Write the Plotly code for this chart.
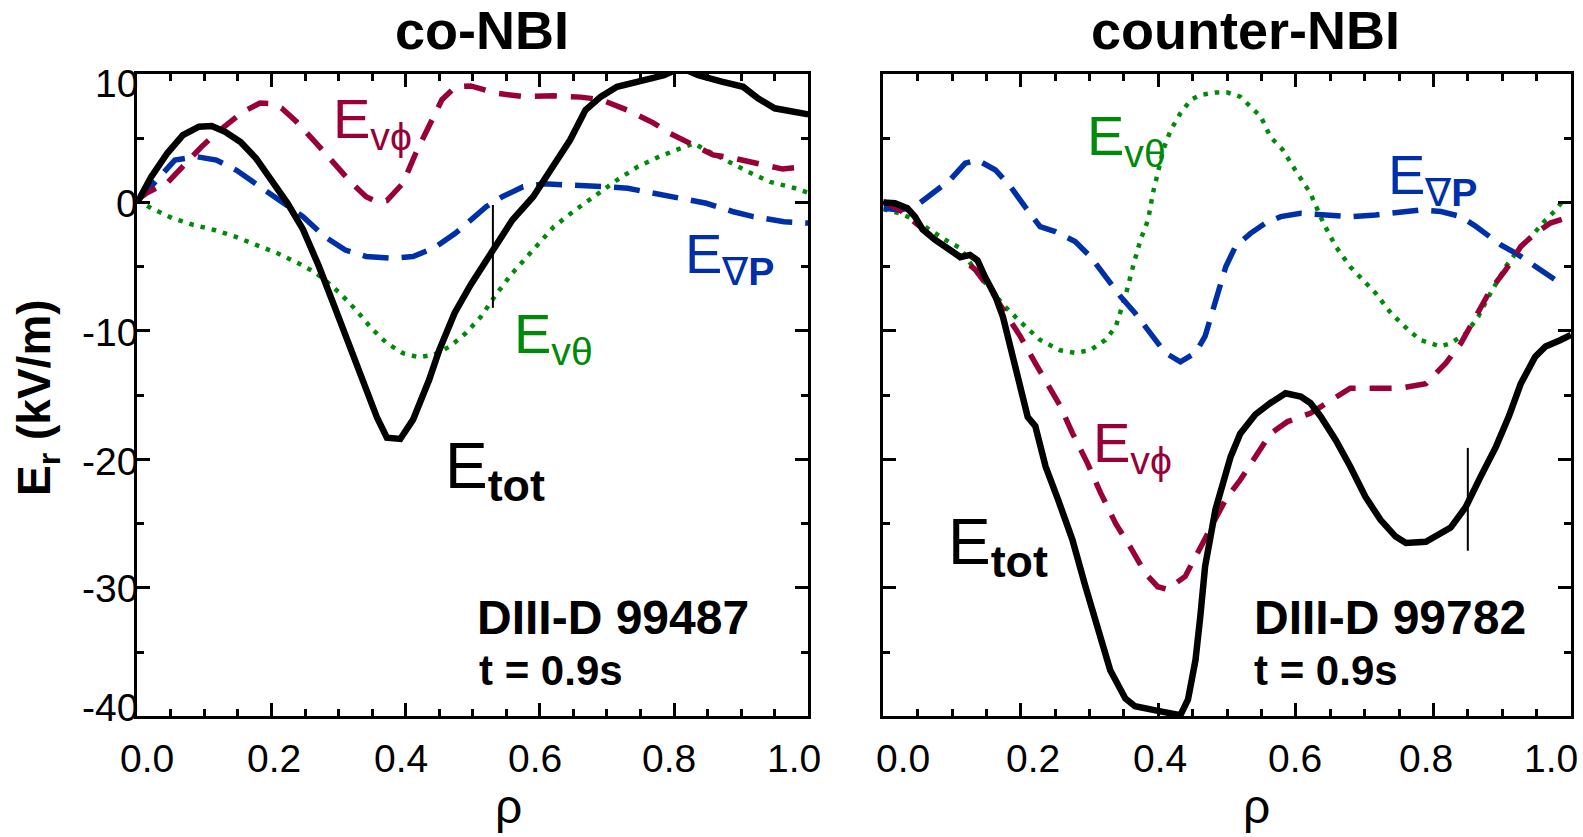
import plotly.graph_objects as go

# ---------------- data: co-NBI (left panel) ----------------
rho_co_tot = [0, 0.021, 0.045, 0.068, 0.092, 0.111, 0.131, 0.154, 0.177, 0.2, 0.224, 0.247, 0.271, 0.294,
              0.318, 0.341, 0.357, 0.372, 0.392, 0.411, 0.435, 0.45, 0.473, 0.497, 0.528, 0.559, 0.59,
              0.621, 0.645, 0.668, 0.691, 0.715, 0.754, 0.785, 0.81, 0.836, 0.871, 0.903, 0.925, 0.95, 1.0]
E_co_tot = [0, 2.0, 3.85, 5.25, 5.9, 5.95, 5.5, 4.7, 3.44, 1.75, -0.06, -2.1, -5.0, -8.1,
            -11.5, -14.6, -16.7, -18.3, -18.4, -16.9, -13.8, -11.5, -8.6, -6.4, -3.95, -1.36, 0.45,
            3.05, 4.86, 7.2, 8.24, 9.0, 9.5, 9.9, 10.5, 9.9, 9.4, 9.0, 8.1, 7.33, 6.86]

rho_co_vphi = [0, 0.014, 0.046, 0.066, 0.076, 0.096, 0.12, 0.143, 0.158, 0.183, 0.2, 0.215, 0.237, 0.267,
               0.294, 0.318, 0.341, 0.357, 0.372, 0.396, 0.415, 0.435, 0.454, 0.474, 0.497, 0.536, 0.575,
               0.621, 0.661, 0.691, 0.73, 0.769, 0.793, 0.824, 0.858, 0.888, 0.918, 0.933, 0.962, 0.988]
E_co_vphi = [0.2, 0.74, 1.6, 2.7, 3.1, 4.35, 5.5, 6.4, 7.07, 7.74, 7.7, 7.35, 6.3, 4.6,
             3.05, 1.6, 0.45, 0.07, 0.15, 1.5, 3.83, 5.9, 8.0, 9.0, 9.07, 8.5, 8.24,
             8.3, 8.2, 8.0, 7.2, 6.2, 5.4, 4.6, 3.7, 3.46, 3.1, 2.85, 2.6, 2.76]

rho_co_gradp = [0, 0.014, 0.036, 0.056, 0.088, 0.118, 0.148, 0.173, 0.198, 0.216, 0.247, 0.279, 0.31,
                0.341, 0.38, 0.411, 0.442, 0.474, 0.497, 0.52, 0.544, 0.575, 0.606, 0.653, 0.7, 0.731,
                0.778, 0.809, 0.848, 0.887, 0.918, 0.964, 1.0]
E_co_gradp = [0.2, 0.85, 2.14, 3.3, 3.57, 3.3, 2.5, 1.6, 0.6, 0.0, -1.1, -2.65, -3.7,
              -4.2, -4.34, -4.2, -3.55, -2.4, -1.36, -0.33, 0.45, 1.23, 1.45, 1.37, 1.23, 1.1,
              0.59, 0.33, -0.06, -0.7, -1.1, -1.5, -1.6]

rho_co_vth = [0, 0.021, 0.053, 0.084, 0.115, 0.146, 0.177, 0.209, 0.24, 0.263, 0.279, 0.302, 0.326,
              0.349, 0.372, 0.396, 0.419, 0.442, 0.466, 0.489, 0.512, 0.536, 0.559, 0.59, 0.621, 0.653,
              0.684, 0.715, 0.746, 0.778, 0.809, 0.83, 0.843, 0.876, 0.91, 0.943, 0.979, 1.0]
E_co_vth = [0.2, -0.45, -1.23, -1.75, -2.14, -2.65, -3.3, -3.95, -4.73, -5.38, -6.0, -7.06, -8.36,
            -9.79, -10.95, -11.73, -12.04, -11.86, -11.2, -10.2, -8.9, -7.06, -5.5, -3.68, -1.87, -0.58,
            0.59, 1.75, 2.79, 3.57, 4.2, 4.6, 4.2, 3.3, 2.4, 1.6, 1.13, 0.75]

# ---------------- data: counter-NBI (right panel) ----------------
rho_ctr_tot = [0, 0.017, 0.035, 0.046, 0.057, 0.075, 0.097, 0.112, 0.126, 0.137, 0.148, 0.163, 0.174,
               0.181, 0.192, 0.203, 0.21, 0.221, 0.236, 0.254, 0.275, 0.294, 0.312, 0.33, 0.352, 0.366,
               0.403, 0.432, 0.443, 0.454, 0.461, 0.468, 0.483, 0.505, 0.519, 0.541, 0.563, 0.585, 0.607,
               0.621, 0.636, 0.658, 0.679, 0.701, 0.723, 0.745, 0.76, 0.789, 0.825, 0.847, 0.869, 0.891,
               0.91, 0.927, 0.948, 0.963, 0.985, 1.0]
E_ctr_tot = [0, -0.05, -0.45, -1.1, -2.1, -2.9, -3.7, -4.26, -4.08, -4.5, -5.8, -7.3, -8.9,
             -10.4, -12.8, -14.8, -16.7, -17.4, -20.55, -23.1, -26.25, -29.9, -33.25, -36.4, -38.6, -39.2,
             -39.6, -39.9, -38.7, -35.6, -32.2, -28.3, -23.9, -19.8, -18.0, -16.5, -15.6, -14.85, -15.1,
             -15.6, -16.65, -18.5, -20.55, -22.9, -24.7, -26.0, -26.5, -26.4, -25.3, -23.7, -21.3, -19.0,
             -16.6, -14.1, -12.0, -11.2, -10.7, -10.3]

rho_ctr_vphi = [0, 0.024, 0.054, 0.083, 0.112, 0.134, 0.156, 0.177, 0.199, 0.221, 0.243, 0.257, 0.275,
                0.297, 0.316, 0.338, 0.359, 0.381, 0.399, 0.413, 0.439, 0.454, 0.476, 0.498, 0.519, 0.541,
                0.563, 0.588, 0.621, 0.636, 0.679, 0.723, 0.752, 0.789, 0.818, 0.84, 0.862, 0.883, 0.905,
                0.927, 0.948, 0.97, 1.0]
E_ctr_vphi = [0.07, -0.58, -1.9, -3.17, -4.2, -5.25, -6.8, -8.6, -10.4, -12.5, -14.6, -15.8, -17.95,
              -20.3, -22.6, -25.0, -26.8, -28.85, -29.9, -30.1, -29.1, -27.6, -25.5, -23.1, -21.6, -19.8,
              -18.0, -17.05, -16.4, -15.9, -14.45, -14.45, -14.45, -14.1, -12.5, -10.95, -8.9, -6.8, -5.25,
              -3.43, -2.4, -1.6, -1.1]

rho_ctr_gradp = [0, 0.024, 0.046, 0.075, 0.097, 0.119, 0.137, 0.163, 0.185, 0.206, 0.228, 0.25, 0.279,
                 0.301, 0.323, 0.345, 0.366, 0.388, 0.41, 0.432, 0.454, 0.468, 0.483, 0.498, 0.512, 0.534,
                 0.556, 0.578, 0.607, 0.643, 0.679, 0.716, 0.752, 0.781, 0.811, 0.84, 0.862, 0.883, 0.898,
                 0.92, 0.942, 0.963, 0.985]
E_ctr_gradp = [-0.45, -0.58, -0.33, 0.86, 1.75, 3.05, 3.3, 2.53, 1.23, -0.33, -1.88, -2.27, -3.04,
               -4.2, -5.77, -7.32, -8.6, -10.18, -11.7, -12.4, -11.7, -10.4, -7.84, -5.0, -3.43, -2.4,
               -1.6, -1.1, -0.84, -0.97, -1.1, -0.97, -0.7, -0.58, -0.7, -1.1, -1.87, -2.66, -3.3,
               -3.95, -4.73, -5.5, -6.3]

rho_ctr_vth = [0, 0.024, 0.046, 0.068, 0.09, 0.112, 0.13, 0.156, 0.177, 0.199, 0.228, 0.257, 0.279,
               0.301, 0.323, 0.338, 0.352, 0.363, 0.374, 0.385, 0.392, 0.399, 0.407, 0.418, 0.432, 0.447,
               0.461, 0.483, 0.501, 0.519, 0.534, 0.549, 0.563, 0.581, 0.599, 0.621, 0.64, 0.658, 0.679,
               0.701, 0.716, 0.738, 0.763, 0.781, 0.81, 0.825, 0.847, 0.865, 0.883, 0.905, 0.927, 0.942,
               0.963, 0.978, 0.989]
E_ctr_vth = [-0.53, -0.84, -1.36, -2.14, -2.9, -3.56, -5.0, -6.8, -8.1, -9.27, -10.7, -11.5, -11.7,
             -11.5, -10.7, -9.66, -7.3, -5.0, -2.9, -1.36, 0.72, 2.27, 4.1, 5.64, 6.94, 7.98,
             8.37, 8.55, 8.55, 8.24, 7.46, 6.68, 5.1, 4.09, 2.53, 0.72, -1.6, -3.43, -5.0,
             -6.3, -7.06, -8.6, -9.9, -10.7, -11.2, -10.95, -10.2, -8.9, -7.06, -5.0, -3.43, -2.66,
             -1.36, -0.58, 0.2]

# short vertical markers
mark_rho_co = [0.53, 0.53]
mark_E_co = [-0.2, -8.2]
mark_rho_ctr = [0.85, 0.85]
mark_E_ctr = [-19.1, -27.1]

x_tickvals = [0, 0.2, 0.4, 0.6, 0.8, 1.0]
x_ticktext = ["0.0", "0.2", "0.4", "0.6", "0.8", "1.0"]
y_tickvals = [10, 0, -10, -20, -30, -40]
y_ticktext = ["10", "0", "-10", "-20", "-30", "-40"]

panel_titles = ["co-NBI", "counter-NBI"]
shot_labels = ["DIII-D 99487", "DIII-D 99782"]
time_label = "t = 0.9s"

# ---------------- styles ----------------
C_TOT = "#000000"
C_VPHI = "#990038"
C_GRADP = "#0030a8"
C_VTH = "#008a0a"
FONT = "Liberation Sans, Arial, Helvetica, sans-serif"
TICK_SIZE = 39
# label nudges (px) as placed in the original artwork
XLAB_SHIFT_LEFT = [10, 3, -5, -5, -5, -14]
XLAB_SHIFT_RIGHT = [20, 12, 2, -1, -7, -20]
YLAB_SHIFT = [-10, -1, -2, -2, -1, 9]

fig = go.Figure()


def add_line(x, y, color, width, dash, xa, ya):
    fig.add_trace(go.Scatter(x=x, y=y, mode="lines",
                             line=dict(color=color, width=width, dash=dash),
                             xaxis=xa, yaxis=ya, showlegend=False, hoverinfo="skip"))


for xa, ya, tot, vphi, gradp, vth, mk in [
    ("x", "y", (rho_co_tot, E_co_tot), (rho_co_vphi, E_co_vphi), (rho_co_gradp, E_co_gradp),
     (rho_co_vth, E_co_vth), (mark_rho_co, mark_E_co)),
    ("x2", "y2", (rho_ctr_tot, E_ctr_tot), (rho_ctr_vphi, E_ctr_vphi), (rho_ctr_gradp, E_ctr_gradp),
     (rho_ctr_vth, E_ctr_vth), (mark_rho_ctr, mark_E_ctr)),
]:
    add_line(*vth, C_VTH, 4.5, "4.5px,7px", xa, ya)
    add_line(*gradp, C_GRADP, 5.5, "26px,13px", xa, ya)
    add_line(*vphi, C_VPHI, 5.5, "22px,14px", xa, ya)
    add_line(*tot, C_TOT, 6.5, "solid", xa, ya)
    add_line(*mk, "#000000", 2, "solid", xa, ya)


def xaxis_cfg(domain, anchor):
    return dict(domain=domain, anchor=anchor, range=[0, 1], showline=True, linewidth=3,
                linecolor="black", mirror="ticks", ticks="inside", ticklen=13, tickwidth=2.5,
                tickcolor="black", showgrid=False, zeroline=False, automargin=False,
                tickvals=x_tickvals, showticklabels=False,
                minor=dict(dtick=0.05, tick0=0, ticks="inside", ticklen=7, tickwidth=2.5,
                           tickcolor="black", showgrid=False))


def yaxis_cfg(anchor):
    return dict(domain=[0.144, 0.9116], anchor=anchor, range=[-40, 10], showline=True, linewidth=3,
                linecolor="black", mirror="ticks", ticks="inside", ticklen=13, tickwidth=2.5,
                tickcolor="black", showgrid=False, zeroline=False, automargin=False,
                tickvals=y_tickvals, showticklabels=False,
                minor=dict(dtick=5, tick0=0, ticks="inside", ticklen=7, tickwidth=2.5,
                           tickcolor="black", showgrid=False))


annotations = []


def label(text, x, y, xref, yref, size, color="black", xanchor="center", yanchor="middle",
          angle=0, xshift=0, yshift=0):
    annotations.append(dict(text=text, x=x, y=y, xref=xref, yref=yref, showarrow=False,
                            xanchor=xanchor, yanchor=yanchor, textangle=angle,
                            xshift=xshift, yshift=yshift,
                            font=dict(family=FONT, size=size, color=color)))


# tick labels (drawn as text at the axis values)
for v, t, s in zip(x_tickvals, x_ticktext, XLAB_SHIFT_LEFT):
    label(t, v, 0.0932, "x", "paper", TICK_SIZE, xshift=s)
for v, t, s in zip(x_tickvals, x_ticktext, XLAB_SHIFT_RIGHT):
    label(t, v, 0.0932, "x2", "paper", TICK_SIZE, xshift=s)
for v, t, s in zip(y_tickvals, y_ticktext, YLAB_SHIFT):
    label(t, 0, v, "x domain", "y", TICK_SIZE, xanchor="right", xshift=3, yshift=s)

# titles
label("<b>" + panel_titles[0] + "</b>", 0.3048, 0.964, "paper", "paper", 54)
label("<b>" + panel_titles[1] + "</b>", 0.787, 0.964, "paper", "paper", 54)
# axis titles
label("<b>E<sub>r</sub> (kV/m)</b>", 0.024, 0.5257, "paper", "paper", 46, angle=-90)
label("ρ", 0.553, 0.036, "x domain", "paper", 48)
label("ρ", 0.543, 0.036, "x2 domain", "paper", 48)

# curve labels, left
label("E<sub>vϕ</sub>", 0.351, 6.2, "x", "y", 56, C_VPHI)
label("E<sub>∇<b>P</b></sub>", 0.883, -4.3, "x", "y", 56, C_GRADP)
label("E<sub>vθ</sub>", 0.62, -10.5, "x", "y", 56, C_VTH)
label("E<sub><b>tot</b></sub>", 0.533, -20.8, "x", "y", 64)
label("<b>" + shot_labels[0] + "</b>", 0.503, -32.3, "x", "y", 48, xanchor="left")
label("<b>" + time_label + "</b>", 0.506, -36.4, "x", "y", 42, xanchor="left")

# curve labels, right
label("E<sub>vθ</sub>", 0.353, 4.9, "x2", "y2", 56, C_VTH)
label("E<sub>∇<b>P</b></sub>", 0.8, 1.9, "x2", "y2", 56, C_GRADP)
label("E<sub>vϕ</sub>", 0.363, -19.0, "x2", "y2", 56, C_VPHI)
label("E<sub><b>tot</b></sub>", 0.167, -26.7, "x2", "y2", 64)
label("<b>" + shot_labels[1] + "</b>", 0.536, -32.3, "x2", "y2", 48, xanchor="left")
label("<b>" + time_label + "</b>", 0.536, -36.4, "x2", "y2", 42, xanchor="left")

fig.update_layout(
    width=1583, height=837, margin=dict(l=0, r=0, t=0, b=0, autoexpand=False),
    paper_bgcolor="white", plot_bgcolor="white", showlegend=False,
    xaxis=xaxis_cfg([0.0867, 0.5106], "y"),
    yaxis=yaxis_cfg("x"),
    xaxis2=xaxis_cfg([0.558, 0.9924], "y2"),
    yaxis2=yaxis_cfg("x2"),
    annotations=annotations,
    font=dict(family=FONT, color="black"),
)

fig.write_html("out.html")
